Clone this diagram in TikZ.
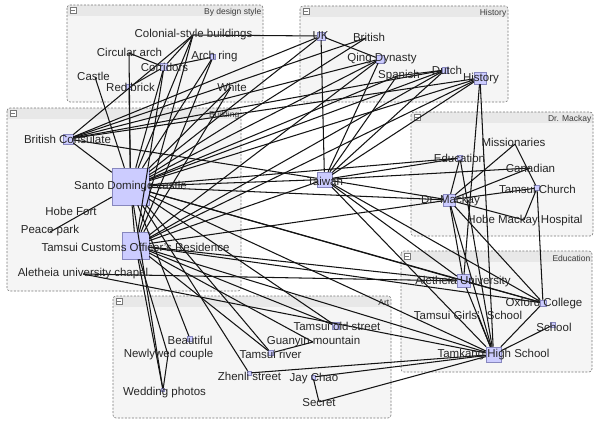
\documentclass[tikz,border=0pt]{standalone}
\usepackage{fontspec}
\setmainfont{Liberation Sans}
\definecolor{grpfill}{RGB}{245,245,245}
\definecolor{hdrfill}{RGB}{232,232,232}
\definecolor{grpborder}{RGB}{120,120,120}
\definecolor{mkfill}{RGB}{204,204,255}
\definecolor{mkborder}{RGB}{135,135,190}
\definecolor{txtcol}{RGB}{38,38,38}
\definecolor{ttlcol}{RGB}{60,60,60}
\tikzset{
  grp/.style={draw=grpborder, dash pattern=on 2pt off 1.5pt, line width=0.6pt, rounded corners=3pt},
  mk/.style={draw=mkborder, fill=mkfill, line width=0.5pt, inner sep=0pt, minimum size=#1},
  pt/.style={inner sep=0pt, minimum size=0pt},
  lbl/.style={inner sep=0pt, text=txtcol, font=\fontsize{11.5}{13}\selectfont},
  ttl/.style={inner sep=0pt, text=ttlcol, font=\fontsize{8.5}{10}\selectfont, anchor=east},
  minusbox/.style={draw=grpborder, fill=white, line width=0.4pt, inner sep=0pt, minimum size=6pt},
  edge/.style={draw=black!92, line width=1.05pt},
}
\newcommand\grpbox[6]{%
  \fill[grpfill, rounded corners=3pt] (#1,#2) rectangle (#3,#4);
  \begin{scope}
    \clip[rounded corners=3pt] (#1,#2) rectangle (#3,#4);
    \fill[hdrfill] (#1,#2) rectangle (#3,#2+11);
  \end{scope}
  \draw[grp] (#1,#2) rectangle (#3,#4);
  \node[minusbox] (#6m) at (#1+6,#2+5.5) {};
  \draw[grpborder, line width=0.6pt] (#6m.west) ++(1.2pt,0) -- ($(#6m.east)+(-1.2pt,0)$);
  \node[ttl] (#6t) at (#3-1.5,#2+7) {#5};
}
\usetikzlibrary{calc}
\begin{document}
\begin{tikzpicture}[x=1pt,y=-1pt]
\useasboundingbox (0,0) rectangle (597,428);
\fill[white] (0,0) rectangle (597,428);
% groups
\grpbox{67}{5}{263}{102}{By design style}{gD}
\grpbox{300}{6}{508}{102}{History}{gH}
\grpbox{7}{108}{241}{291}{Building}{gB}
\grpbox{411}{112}{593}{236}{Dr. Mackay}{gM}
\grpbox{401}{251}{592}{372}{Education}{gE}
\grpbox{113}{296}{391}{418}{Art}{gA}
% markers
% design style
\node[pt]    (CB) at (193,35) {};
\node[pt]    (CA) at (129,53) {};
\node[mk=7]  (CO) at (164,67) {};
\node[mk=5]  (AR) at (213,57) {};
\node[pt]    (CS) at (95,77) {};
\node[mk=5]  (RB) at (129,87) {};
\node[pt]    (WH) at (231,87) {};
% history
\node[mk=8]  (UK) at (321,36) {};
\node[pt]    (BR) at (366,38) {};
\node[mk=8]  (QD) at (380,59) {};
\node[pt]    (SP) at (397,76) {};
\node[mk=6]  (DU) at (445,70) {};
\node[mk=12] (HI) at (480,78) {};
% building
\node[mk=10] (BC) at (68,139) {};
\node[mk=37] (SD) at (130.5,186.5) {};
\node[pt]    (HF) at (71,211) {};
\node[pt]    (PP) at (50,232) {};
\node[mk=27] (TC) at (135.5,245.5) {};
\node[pt]    (CH) at (83,274) {};
% taiwan
\node[mk=15] (TW) at (324.5,179.5) {};
% mackay
\node[pt]    (MI) at (515,144) {};
\node[mk=5]  (ED) at (460,158) {};
\node[pt]    (CN) at (530,168) {};
\node[mk=5]  (TCH) at (537,188) {};
\node[mk=12] (DM) at (449,200) {};
\node[pt]    (HO) at (524,220) {};
% education
\node[mk=13] (AU) at (463.5,281) {};
\node[mk=6]  (OX) at (543,303) {};
\node[pt]    (GS) at (478,315) {};
\node[mk=5]  (SC) at (553,325) {};
\node[mk=15] (TK) at (493.5,354.5) {};
% art
\node[mk=7]  (TOS) at (336,326) {};
\node[mk=5]  (BE) at (190,339) {};
\node[pt]    (GY) at (313,342) {};
\node[pt]    (NC) at (168,355) {};
\node[mk=5]  (TR) at (271,353) {};
\node[mk=4]  (ZS) at (249,373) {};
\node[mk=4]  (JC) at (313,377) {};
\node[mk=3]  (WP) at (163,390) {};
\node[pt]    (SE) at (319,402) {};
% edges
\foreach \a/\b in {CB/UK,CB/SD,CB/TC,CB/BC,CB/CO,CA/CO,CA/SD,RB/CO,RB/SD,CO/AR,CO/SD,CO/TC,AR/SD,AR/TC,WH/SD,WH/TC,CS/SD,
  UK/TW,UK/QD,UK/BC,UK/SD,BR/SD,BR/BC,QD/SD,QD/TC,QD/BC,QD/TW,SP/DU,SP/TW,SP/SD,DU/TW,DU/SD,DU/TC,DU/BC,
  HI/BC,HI/SD,HI/TC,HI/TW,HI/AU,HI/TK,
  BC/SD,BC/TW,SD/PP,SD/TW,SD/TC,SD/DM,SD/AU,SD/TK,SD/OX,SD/ED,TC/TW,TC/DM,TC/AU,TC/TK,TC/OX,CH/AU,CH/TK,
  TW/DM,TW/ED,TW/CN,TW/AU,TW/TK,TW/OX,
  DM/ED,DM/MI,DM/CN,DM/TCH,DM/HO,DM/AU,DM/TK,DM/OX,MI/TCH,TCH/HO,TCH/OX,ED/TK,
  AU/TK,AU/OX,OX/TK,SC/TK,GS/TK,
  TOS/SD,TOS/TC,GY/TC,GY/TR,TR/SD,TR/TC,ZS/SD,ZS/TK,BE/SD,WP/SD,WP/TC,WP/NC,NC/TC,JC/SE,JC/TK,SE/TK}
  \draw[edge] (\a) -- (\b);
% labels
\node[lbl] (CBl) at (193.5,35) {Colonial-style buildings};
\node[lbl] (CAl) at (129.5,52) {Circular arch};
\node[lbl] (COl) at (164.5,67) {Corridors};
\node[lbl] (ARl) at (214.5,57) {Arch ring};
\node[lbl] (CSl) at (93.5,76) {Castle};
\node[lbl] (RBl) at (130.5,87) {Red brick};
\node[lbl] (WHl) at (232,87) {White};
\node[lbl] (UKl) at (320.5,36) {UK};
\node[lbl] (BRl) at (369,37) {British};
\node[lbl] (QDl) at (382,59) {Qing Dynasty};
\node[lbl] (SPl) at (399,76) {Spanish};
\node[lbl] (DUl) at (447,70) {Dutch};
\node[lbl] (HIl) at (481,79) {History};
\node[lbl] (BCl) at (67.5,139) {British Consulate};
\node[lbl] (SDl) at (130.5,187) {Santo Domingo castle};
\node[lbl] (HFl) at (71,211) {Hobe Fort};
\node[lbl] (PPl) at (50,231) {Peace park};
\node[lbl] (TCl) at (135.5,247) {Tamsui Customs Officer's Residence};
\node[lbl] (CHl) at (83,274) {Aletheia university chapel};
\node[lbl] (TWl) at (325,181) {Taiwan};
\node[lbl] (MIl) at (513.5,142) {Missionaries};
\node[lbl] (EDl) at (459.5,158) {Education};
\node[lbl] (CNl) at (530.5,168) {Canadian};
\node[lbl] (TCHl) at (537.5,189) {Tamsui Church};
\node[lbl] (DMl) at (450.5,201) {Dr. Mackay};
\node[lbl] (HOl) at (525,221) {Hobe Mackay Hospital};
\node[lbl] (AUl) at (463,282) {Aletheia University};
\node[lbl] (OXl) at (544,304) {Oxford College};
\node[lbl] (GSl) at (468,315) {Tamsui Girls'\hspace{4pt} School};
\node[lbl] (SCl) at (554,327) {School};
\node[lbl] (TKl) at (493.5,355) {Tamkang High School};
\node[lbl] (TOSl) at (337,326) {Tamsui old street};
\node[lbl] (BEl) at (190,340) {Beautiful};
\node[lbl] (GYl) at (313.5,342) {Guanyin mountain};
\node[lbl] (NCl) at (168.5,355) {Newlywed couple};
\node[lbl] (TRl) at (270.5,354) {Tamsui river};
\node[lbl] (ZSl) at (249.5,376) {Zhenli street};
\node[lbl] (JCl) at (314,379) {Jay Chao};
\node[lbl] (WPl) at (164.5,393) {Wedding photos};
\node[lbl] (SEl) at (319,403) {Secret};
\end{tikzpicture}
\end{document}
